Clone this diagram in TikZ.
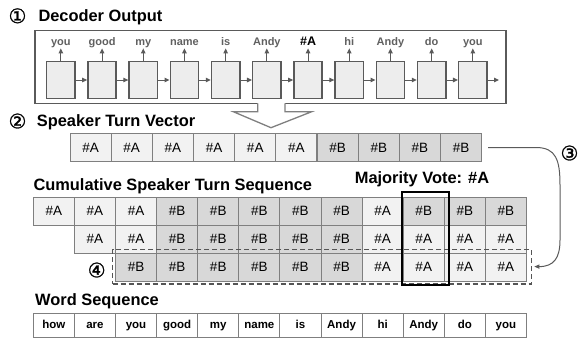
\documentclass[tikz,border=0pt]{standalone}
\usepackage{fontspec}
\setmainfont{Liberation Sans}
\newfontfamily\circfont{DejaVu Sans}[FakeBold=1.2]
\usetikzlibrary{arrows.meta}

\definecolor{cellLine}{HTML}{7F7F7F}
\definecolor{fillA}{HTML}{F2F2F2}
\definecolor{fillB}{HTML}{D8D8D8}
\definecolor{decLine}{HTML}{5A5A5A}
\definecolor{decFill}{HTML}{EDEDED}
\definecolor{lblGray}{HTML}{606060}
\definecolor{dashGray}{HTML}{555555}

\begin{document}
\begin{tikzpicture}[x=1pt,y=-1pt,
  heading/.style={anchor=base west,inner sep=0pt,font=\fontsize{16.4}{18}\selectfont\bfseries},
  circnum/.style={inner sep=0pt,font=\circfont\fontsize{20}{22}\selectfont},
  turn/.style={draw=cellLine,line width=1pt,minimum width=41.1pt,minimum height=28pt,inner sep=0pt,font=\fontsize{13.5}{15}\selectfont},
  wordcell/.style={turn,fill=white,minimum height=24pt,text height=8.5pt,text depth=2.5pt,font=\fontsize{11.5}{13}\selectfont\bfseries},
  decbox/.style={draw=decLine,fill=decFill,line width=1.5pt,minimum width=28.3pt,minimum height=36.7pt,inner sep=0pt},
  outlbl/.style={anchor=base,inner sep=1pt,text height=8pt,text depth=2pt,text=lblGray,font=\fontsize{11}{12}\selectfont\bfseries},
  outlblA/.style={outlbl,text=black,font=\fontsize{12.5}{13}\selectfont\bfseries},
  flow/.style={draw=decLine,line width=1pt,-{Triangle[length=5pt,width=4.5pt]}}]
\useasboundingbox (0,0) rectangle (578,338);

% decoder output
\node[circnum] (n1) at (17.5,15.8) {①};
\node[heading] (tdec) at (38.3,21.7) {Decoder Output};
\node[draw=decLine,line width=1.5pt,minimum width=471pt,minimum height=72.6pt,inner sep=0pt] (decoder) at (270.5,67) {};
\foreach \w/\s [count=\i] in {you/outlbl,good/outlbl,my/outlbl,name/outlbl,is/outlbl,Andy/outlbl,\#A/outlblA,hi/outlbl,Andy/outlbl,do/outlbl,you/outlbl} {
  \node[decbox] (dec\i) at ({19.65+41.2*\i},80) {};
  \node[\s] (out\i) at ({19.65+41.2*\i},45.2) {\w};
}
\foreach \i in {1,...,11}
  \draw[flow] (dec\i.north) -- (out\i.south);
\foreach \i [evaluate=\i as \j using int(\i+1)] in {1,...,10}
  \draw[flow] (dec\i) -- (dec\j);
\coordinate (decend) at (499,80);
\draw[flow] (dec11) -- (decend);

% hollow arrow down
\fill[white] (257.7,102) -- (257.7,111.7) -- (233.3,111.7) -- (271,127.7) -- (311.7,111.7) -- (285,111.7) -- (285,102) -- cycle;
\draw[cellLine,line width=1.3pt,line join=miter] (257.7,103.3) -- (257.7,111.7) -- (233.3,111.7) -- (271,127.7) -- (311.7,111.7) -- (285,111.7) -- (285,103.3);

% speaker turn vector
\node[circnum] (n2) at (17.5,121) {②};
\node[heading] (tstv) at (36.7,126.5) {Speaker Turn Vector};
\foreach \t [count=\i] in {A,A,A,A,A,A,B,B,B,B}
  \node[turn,fill=fill\t] (stv\i) at ({49.4+41.17*\i},147.5) {\#\t};

% cumulative sequence
\node[heading] (tcum) at (33.3,190) {Cumulative Speaker Turn Sequence};
\foreach \t [count=\i] in {A,A,A,B,B,B,B,B,A,B,B,B}
  \node[turn,fill=fill\t] (ca\i) at ({12.75+41.1*\i},211) {\#\t};
\foreach \t [count=\i from 2] in {A,A,B,B,B,B,B,A,A,A,A}
  \node[turn,fill=fill\t] (cb\i) at ({12.75+41.1*\i},239) {\#\t};
\foreach \t [count=\i from 3] in {B,B,B,B,B,B,A,A,A,A}
  \node[turn,fill=fill\t] (cc\i) at ({12.75+41.1*\i},267) {\#\t};

\node[draw=dashGray,line width=1.5pt,dash pattern=on 5pt off 3pt,minimum width=418.8pt,minimum height=34.7pt,inner sep=0pt] (dash) at (322.1,266.6) {};
\node[circnum] (n4) at (96.7,270) {④};

\node[anchor=base,inner sep=0pt,font=\fontsize{16.4}{18}\selectfont\bfseries] (vote) at (422,183.3) {Majority Vote: \#A};
\node[draw=black,line width=2pt,minimum width=47.3pt,minimum height=92.7pt,inner sep=0pt] (votebox) at (425.3,238.6) {};

% feed back
\node[circnum] (n3) at (569.5,153) {③};
\draw[draw=decLine,line width=1pt,-{Triangle[length=5pt,width=4pt]}] ([xshift=6pt]stv10.east) -- (536,147.5) .. controls (556,147.5) and (560,160) .. (560,185) -- (560,240) .. controls (560,258) and (554,266.6) .. ([xshift=2pt]dash.east);

% word sequence
\node[heading] (tword) at (35,305) {Word Sequence};
\foreach \w [count=\i] in {how,are,you,good,my,name,is,Andy,hi,Andy,do,you}
  \node[wordcell] (w\i) at ({12.75+41.1*\i},325) {\w};
\end{tikzpicture}
\end{document}
